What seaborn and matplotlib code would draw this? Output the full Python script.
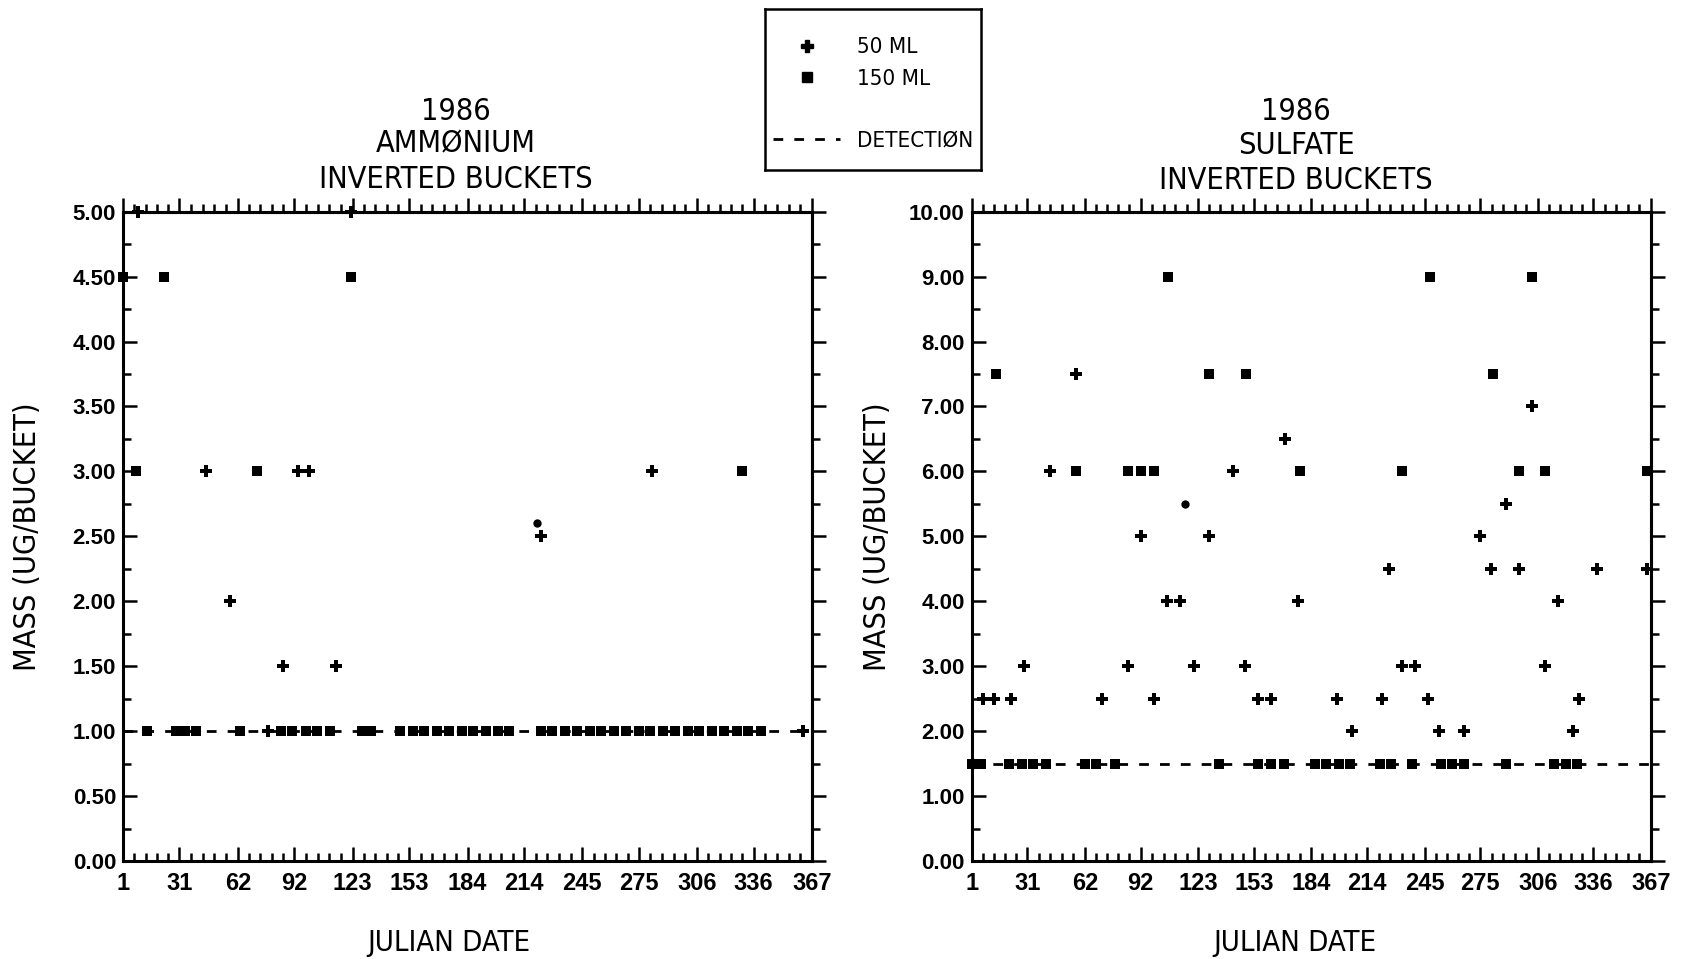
import matplotlib
matplotlib.use("Agg")
import matplotlib.pyplot as plt
import seaborn as sns
import pandas as pd
from matplotlib.lines import Line2D

# ---------------- data ----------------
julian_ticks = [1, 31, 62, 92, 123, 153, 184, 214, 245, 275, 306, 336, 367]

# AMMONIUM (left panel)
amm_detection = 1.0
amm_50_day = [9, 122, 45, 94, 100, 282, 58, 86, 114, 223, 78, 362]
amm_50_val = [5.0, 5.0, 3.0, 3.0, 3.0, 3.0, 2.0, 1.5, 1.5, 2.5, 1.0, 1.0]
amm_150_day = [1, 23, 122, 8, 72, 330,
               14, 29, 34, 40, 63, 85, 91, 98, 104, 111, 128, 133,
               148, 155, 161, 168, 174, 181, 187, 194, 200, 206,
               223, 229, 236, 242, 249, 255, 262, 268, 275, 281, 288, 294,
               301, 307, 314, 320, 327, 333, 340]
amm_150_val = [4.5, 4.5, 4.5, 3.0, 3.0, 3.0] + [1.0] * 41
amm_dot_day = [221]
amm_dot_val = [2.6]

# SULFATE (right panel)
sul_detection = 1.5
sul_50_day = [57, 170, 43, 142, 303, 289, 92, 129, 275, 106, 113, 177, 317,
              226, 281, 296, 338, 365, 29, 85, 121, 148, 233, 240, 310,
              7, 13, 22, 71, 99, 155, 162, 198, 222, 247, 328,
              206, 253, 266, 325]
sul_50_val = [7.5, 6.5, 6.0, 6.0, 7.0, 5.5, 5.0, 5.0, 5.0, 4.0, 4.0, 4.0, 4.0,
              4.5, 4.5, 4.5, 4.5, 4.5, 3.0, 3.0, 3.0, 3.0, 3.0, 3.0, 3.0,
              2.5, 2.5, 2.5, 2.5, 2.5, 2.5, 2.5, 2.5, 2.5, 2.5, 2.5,
              2.0, 2.0, 2.0, 2.0]
sul_150_day = [107, 248, 303,
               14, 129, 149, 282,
               57, 85, 92, 99, 178, 233, 296, 310, 365,
               1, 6, 21, 28, 34, 41, 62, 68, 78, 134, 155, 162, 169,
               186, 192, 199, 205, 221, 227, 238, 254, 260, 266, 289,
               315, 321, 327]
sul_150_val = [9.0] * 3 + [7.5] * 4 + [6.0] * 9 + [1.5] * 27
sul_dot_day = [116]
sul_dot_val = [5.5]

# ---------------- style ----------------
sns.set_theme(style="white")
NARROW = ["Liberation Sans Narrow", "DejaVu Sans"]
WIDE = ["Liberation Sans", "DejaVu Sans"]
STRETCH = "condensed"
plt.rcParams.update({
    "font.family": NARROW,
    "font.stretch": STRETCH,
    "axes.edgecolor": "black",
    "axes.linewidth": 2.2,
    "xtick.color": "black",
    "ytick.color": "black",
    "text.color": "black",
    "axes.labelcolor": "black",
})

W, H = 1685, 959
fig = plt.figure(figsize=(W / 100, H / 100), dpi=100)
fig.patch.set_facecolor("white")

ax1 = fig.add_axes([123 / W, 98 / H, 689 / W, 649.3 / H])
ax2 = fig.add_axes([971.7 / W, 98 / H, 679.3 / W, 649.3 / H])

minor_x = []
for a, b in zip(julian_ticks[:-1], julian_ticks[1:]):
    minor_x += [a + k * (b - a) / 5 for k in range(1, 5)]

DASH = (0, (3.5, 4))


def panel(ax, d50, v50, d150, v150, ddot, vdot, detect, ymax, ystep,
          titles, title_x, title_ys, ylab_x, xlab_x):
    df = pd.DataFrame({
        "day": d50 + d150,
        "mass": v50 + v150,
        "bucket": ["50 ML"] * len(d50) + ["150 ML"] * len(d150),
    })
    ax.axhline(detect, color="black", lw=2.0, linestyle=DASH, zorder=2)
    sns.scatterplot(data=df[df.bucket == "50 ML"], x="day", y="mass",
                    marker="P", color="black", s=82, linewidth=0,
                    legend=False, ax=ax, clip_on=False, zorder=4)
    sns.scatterplot(data=df[df.bucket == "150 ML"], x="day", y="mass",
                    marker="s", color="black", s=62, linewidth=0,
                    legend=False, ax=ax, clip_on=False, zorder=4)
    sns.scatterplot(x=ddot, y=vdot, marker="o", s=36, color="black",
                    linewidth=0, legend=False, ax=ax, clip_on=False, zorder=4)

    ax.set_xlim(julian_ticks[0], julian_ticks[-1])
    ax.set_ylim(0, ymax)
    ax.set_xticks(julian_ticks)
    ax.set_xticklabels([str(t) for t in julian_ticks])
    ax.set_xticks(minor_x, minor=True)
    ymaj = [i * ystep for i in range(int(round(ymax / ystep)) + 1)]
    ymin = [v + ystep / 2 for v in ymaj[:-1]]
    ax.set_yticks(ymaj)
    ax.set_yticklabels([f"{v:.2f}" for v in ymaj])
    ax.set_yticks(ymin, minor=True)

    ax.tick_params(which="both", direction="in", bottom=True, left=True,
                   top=False, right=False, width=1.8, color="black")
    ax.tick_params(which="major", length=10)
    ax.tick_params(which="minor", length=5.5)
    ax.tick_params(axis="x", which="major", pad=8)
    ax.tick_params(axis="y", which="major", pad=5)
    for lab in ax.get_xticklabels():
        lab.set_fontfamily(WIDE)
        lab.set_fontstretch("normal")
        lab.set_fontsize(17)
        lab.set_fontweight("bold")
    for lab in ax.get_yticklabels():
        lab.set_fontfamily(WIDE)
        lab.set_fontstretch("normal")
        lab.set_fontsize(16)
        lab.set_fontweight("bold")

    secx = ax.secondary_xaxis("top")
    secx.set_xticks(julian_ticks)
    secx.set_xticklabels([])
    secx.set_xticks(minor_x, minor=True)
    secx.tick_params(which="both", direction="out", width=1.8, color="black")
    secx.tick_params(which="major", length=10)
    secx.tick_params(which="minor", length=5.5)

    secy = ax.secondary_yaxis("right")
    secy.set_yticks(ymaj)
    secy.set_yticklabels([])
    secy.set_yticks(ymin, minor=True)
    secy.tick_params(which="both", direction="out", width=1.8, color="black")
    secy.tick_params(which="major", length=10)
    secy.tick_params(which="minor", length=5.5)

    for sp in ax.spines.values():
        sp.set_linewidth(2.2)
        sp.set_color("black")

    ax.set_xlabel("JULIAN DATE", fontsize=21)
    ax.xaxis.set_label_coords(xlab_x, -0.104)
    ax.set_ylabel("MASS (UG/BUCKET)", fontsize=22)
    ax.yaxis.set_label_coords(ylab_x, 0.5)

    for txt, ty in zip(titles, title_ys):
        fig.text(title_x / W, 1 - ty / H, txt, ha="center", va="center",
                 fontsize=22)


panel(ax1, amm_50_day, amm_50_val, amm_150_day, amm_150_val,
      amm_dot_day, amm_dot_val, amm_detection, 5.0, 0.5,
      ["1986", "AMMØNIUM", "INVERTED BUCKETS"], 455.6, [111, 144, 179],
      -0.118, 0.473)
panel(ax2, sul_50_day, sul_50_val, sul_150_day, sul_150_val,
      sul_dot_day, sul_dot_val, sul_detection, 10.0, 1.0,
      ["1986", "SULFATE", "INVERTED BUCKETS"], 1296, [112, 146, 180.5],
      -0.117, 0.476)

# ---------------- legend box ----------------
legax = fig.add_axes([765 / W, 1 - 170 / H, 216 / W, 161.4 / H])
legax.set_xticks([])
legax.set_yticks([])
for sp in legax.spines.values():
    sp.set_linewidth(1.8)
    sp.set_color("black")
handles = [
    Line2D([], [], marker="P", color="black", ls="none", markersize=9),
    Line2D([], [], marker="s", color="black", ls="none", markersize=7.5),
    Line2D([], [], ls="none"),
    Line2D([], [], color="black", lw=2.0, linestyle=DASH),
]
labels = ["50 ML", "150 ML", "", "DETECTIØN"]
legax.legend(handles, labels, loc="center", bbox_to_anchor=(0.5, 0.47),
             frameon=False,
             prop={"family": NARROW, "size": 16, "stretch": STRETCH},
             handlelength=3.0, handletextpad=0.75, labelspacing=0.5,
             borderpad=0.2)

fig.savefig("out.png", dpi=100, facecolor="white")
